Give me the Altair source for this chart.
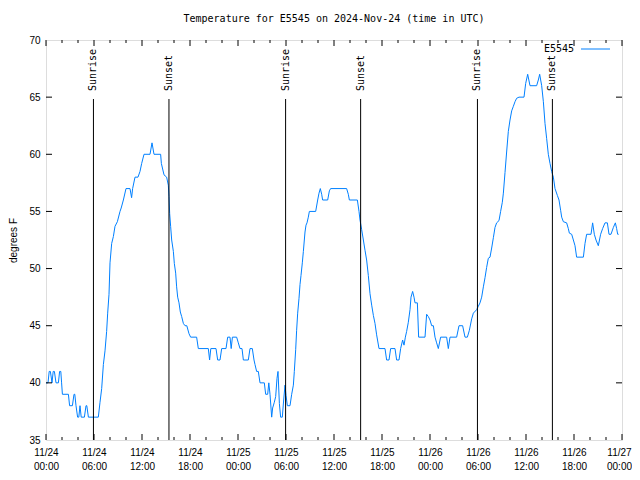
import altair as alt
import pandas as pd

# Hours since 2024-11-24 00:00 UTC and temperature (deg F)
hours = [0.0, 0.25, 0.4, 0.55, 0.75, 0.9, 1.05, 1.25, 1.55, 1.7, 1.85, 1.95, 2.05, 2.8, 2.95, 3.3, 3.5, 3.6,
         3.75, 3.95, 4.1, 4.25, 4.4, 4.8, 5.0, 5.1, 5.3, 6.54,
         6.75, 6.96, 7.17, 7.375, 7.58, 7.71, 7.875, 8.0, 8.21, 8.42, 8.625, 8.92, 9.25, 9.4, 9.67, 10.0,
         10.5, 10.7, 10.83, 11.125, 11.5, 11.75, 11.96, 12.25, 13.0, 13.25, 13.5, 14.33, 14.42, 14.75,
         15.08, 15.29, 15.375, 15.46, 15.58, 15.71, 15.92, 16.04, 16.21, 16.33, 16.46, 16.625, 16.79,
         16.96, 17.17, 17.375, 17.6, 17.875, 18.08, 18.83, 19.04, 20.29, 20.45, 20.6, 21.25, 21.46,
         21.75, 21.96, 22.5, 22.71, 23.0, 23.15, 23.3, 23.83, 24.04, 24.25, 24.5, 24.67, 25.29, 25.5,
         25.79, 26.0, 26.125, 26.33, 26.54, 26.75, 27.29, 27.46, 27.71, 27.85, 28.0, 28.21, 28.33,
         28.54, 28.71, 28.875, 29.0, 29.17, 29.33, 29.54, 29.71, 29.875, 30.0, 30.17, 30.5, 30.71,
         30.92, 31.04, 31.21, 31.33, 31.46, 31.625, 31.75, 31.875, 32.04, 32.17, 32.29, 32.375, 32.5,
         32.625, 32.79, 32.92, 33.71, 33.96, 34.125, 34.29, 34.46, 34.58, 35.21, 35.42, 35.58, 37.58,
         37.79, 37.92, 38.92, 39.125, 39.25, 39.46, 39.67, 39.875, 40.08, 40.29, 40.5, 40.71, 40.92,
         41.125, 41.33, 41.625, 42.375, 42.58, 42.875, 43.08, 43.625, 43.83, 44.125, 44.33, 44.58,
         44.75, 44.92, 45.08, 45.29, 45.5, 45.625, 45.83, 46.0, 46.125, 46.42, 46.58, 47.375, 47.58,
         47.79, 48.0, 48.21, 48.42, 48.625, 48.83, 49.04, 49.33, 50.08, 50.29, 50.5, 51.33, 51.625,
         52.08, 52.375, 52.67, 52.92, 53.21, 53.42, 53.83, 54.04, 54.25, 54.46, 54.67, 54.875, 55.08,
         55.29, 55.5, 55.71, 55.92, 56.125, 56.33, 56.625, 56.83, 57.04, 57.17, 57.375, 57.58, 57.79,
         58.0, 58.21, 58.42, 58.625, 58.83, 59.125, 59.75, 59.96, 60.21, 60.5, 61.33, 61.54, 61.71,
         61.96, 62.17, 62.375, 62.58, 62.79, 63.0, 63.21, 63.42, 63.625, 63.92, 64.125, 64.33, 64.46,
         64.67, 65.08, 65.29, 65.42, 65.71, 65.92, 66.125, 66.33, 67.17, 67.375, 67.58, 68.125, 68.33,
         68.54, 68.75, 69.04, 69.33, 69.58, 69.875, 70.17, 70.375, 70.625, 70.92, 71.17, 71.33, 71.46,
         71.58]
temps = [40, 40, 41, 41, 40, 41, 41, 40, 40, 41, 41, 40, 39, 39, 38, 38, 39, 39,
         38, 37, 37, 38, 37, 37, 38, 38, 37, 37,
         38.3, 39.5, 41.6, 42.8, 44.5, 46.1, 47.75, 50.5, 52.2, 52.8, 53.7, 54.1, 55, 55.3, 56, 57,
         57, 56.2, 57, 58, 58, 58.5, 59.2, 60, 60, 61, 60, 60, 59.2, 58.2,
         58, 57.3, 56.3, 54.8, 53.7, 52.5, 51.5, 50.45, 49.6, 48.4, 47.5, 47, 46.2,
         45.8, 45.2, 45, 45, 44.3, 44, 44, 43, 43, 42, 43, 43, 42,
         42, 43, 43, 44, 44, 43, 44, 44, 43.5, 43, 43, 42, 42, 43,
         43, 42, 41.6, 41, 41, 40, 40, 39, 39, 40, 39, 37, 37.8,
         38.3, 38.8, 40.4, 41, 38.2, 37, 37, 38.5, 39.8, 38.9, 38, 38, 39,
         39.8, 41, 42.9, 44.6, 46.1, 47.4, 48.6, 49.4, 50.5, 51.5, 52.5, 53.2, 53.8,
         54, 54.5, 55, 55, 56, 56.6, 57, 56.5, 56, 56, 56.8, 57, 57,
         56.5, 56, 56, 55, 54.25, 53.4, 52.5, 51.6, 50.75, 49.4, 47.8, 46.8, 45.9,
         45.2, 44.2, 43, 43, 42, 42, 43, 43, 42, 42, 43, 43.75,
         43.3, 44, 44.5, 45.3, 46.4, 47.5, 48, 47.5, 47, 47, 44, 44, 46,
         45.8, 45.5, 45, 45, 44, 43.5, 43, 44, 44, 43, 44, 44, 45,
         45, 44, 44, 44.6, 45.6, 46.1, 46.4, 46.7, 47, 47.5, 48.4, 49.2, 50.1,
         50.9, 51, 51.8, 52.7, 53.6, 54, 54.2, 55, 55.8, 56.6, 58.4, 60.2, 62,
         63, 63.8, 64.2, 64.6, 64.9, 65, 65, 66.2, 67, 66, 66, 66.5, 67,
         66, 64.6, 62.7, 61.4, 60, 59.2, 58.5, 58, 57, 56.4, 56, 55.1, 54.5,
         54.1, 54, 53.5, 53.1, 53, 52.5, 52, 51, 51, 52.2, 53, 53, 54,
         53, 52.5, 52, 53, 53.5, 54, 54, 53, 53, 53.6, 54, 53.5, 53,
         53]

sun_hours = [5.93, 15.37, 29.95, 39.33, 53.93, 63.3]
sun_labels = ["Sunrise", "Sunset", "Sunrise", "Sunset", "Sunrise", "Sunset"]

x_major = [0, 6, 12, 18, 24, 30, 36, 42, 48, 54, 60, 66, 72]
x_minor = [2, 4, 8, 10, 14, 16, 20, 22, 26, 28, 32, 34, 38, 40, 44, 46, 50, 52, 56, 58, 62, 64, 68, 70]
y_values = [35, 40, 45, 50, 55, 60, 65, 70]
y_inner = [40, 45, 50, 55, 60, 65]

series_name = "E5545"
line_color = "#0080ff"

df = pd.DataFrame({"h": hours, "t": temps})
sun_df = pd.DataFrame({"h": sun_hours, "label": sun_labels})
major_df = pd.DataFrame({"h": x_major})
minor_df = pd.DataFrame({"h": x_minor})
yt_df = pd.DataFrame({"t": y_inner})

LABEL_FONT = "Liberation Sans"
MONO = "DejaVu Sans Mono"

xscale = alt.Scale(domain=[0, 72], nice=False, zero=False)
yscale = alt.Scale(domain=[35, 70], nice=False, zero=False)

xaxis = alt.Axis(
    values=x_major,
    labelExpr="['11/' + (24 + floor(datum.value / 24)), (datum.value % 24 < 10 ? '0' : '') + (datum.value % 24) + ':00']",
    title=None, grid=False, ticks=False, domain=False,
    labelFont=LABEL_FONT, labelFontSize=10, labelColor="black",
    labelPadding=7, labelLineHeight=14, labelFlush=False, labelOverlap=False,
    labelOffset={"condition": {"test": "datum.value == 72", "value": -3}, "value": 0},
)
yaxis = alt.Axis(
    values=y_values, title="degrees F", grid=False, ticks=False, domain=False,
    labelFont=LABEL_FONT, labelFontSize=10, labelColor="black", labelPadding=6,
    labelFlush=False, labelOverlap=False,
    titleFont=LABEL_FONT, titleFontSize=10, titleFontWeight="normal", titleColor="black",
    titleX=-28, titleY=200,
)

X = lambda: alt.X("h:Q", scale=xscale, axis=xaxis)
Y = lambda: alt.Y("t:Q", scale=yscale, axis=yaxis)

line = alt.Chart(df).mark_line(color=line_color, strokeWidth=1).encode(x=X(), y=Y())

sun_rules = alt.Chart(sun_df).mark_rule(color="black", strokeWidth=1).encode(
    x=X(), y=alt.value(59), y2=alt.value(400))
sun_text = alt.Chart(sun_df).mark_text(
    angle=270, align="left", baseline="middle", font=MONO, fontSize=10, color="black"
).encode(x=X(), y=alt.value(51), text="label:N")

bot_major = alt.Chart(major_df).mark_rule(color="black").encode(x=X(), y=alt.value(394), y2=alt.value(400))
top_major = alt.Chart(major_df).mark_rule(color="black").encode(x=X(), y=alt.value(0), y2=alt.value(6))
bot_minor = alt.Chart(minor_df).mark_rule(color="black").encode(x=X(), y=alt.value(397), y2=alt.value(400))
top_minor = alt.Chart(minor_df).mark_rule(color="black").encode(x=X(), y=alt.value(0), y2=alt.value(3))
left_t = alt.Chart(yt_df).mark_rule(color="black").encode(y=Y(), x=alt.value(0), x2=alt.value(6))
right_t = alt.Chart(yt_df).mark_rule(color="black").encode(y=Y(), x=alt.value(570), x2=alt.value(576))

leg_text = alt.Chart(pd.DataFrame({"name": [series_name]})).mark_text(
    align="right", baseline="middle", font=MONO, fontSize=10, color="black"
).encode(x=alt.value(528), y=alt.value(9), text="name:N")
leg_line = alt.Chart(pd.DataFrame({"name": [series_name]})).mark_rule(
    color=line_color, strokeWidth=1
).encode(x=alt.value(535), x2=alt.value(564), y=alt.value(9))

chart = alt.layer(
    line, sun_rules, sun_text, bot_major, top_major, bot_minor, top_minor, left_t, right_t,
    leg_text, leg_line
).properties(
    width=576, height=400,
    title=alt.Title("Temperature for E5545 on 2024-Nov-24 (time in UTC)", font=MONO, fontSize=10,
                    fontWeight="normal", color="black", offset=11),
    padding={"left": 38, "top": 32, "right": 10, "bottom": 32},
    autosize=alt.AutoSizeParams(type="none"),
).configure_view(stroke="black", strokeWidth=1).configure(background="white")

chart.save("out.html", embed_options={"renderer": "svg", "actions": False})
